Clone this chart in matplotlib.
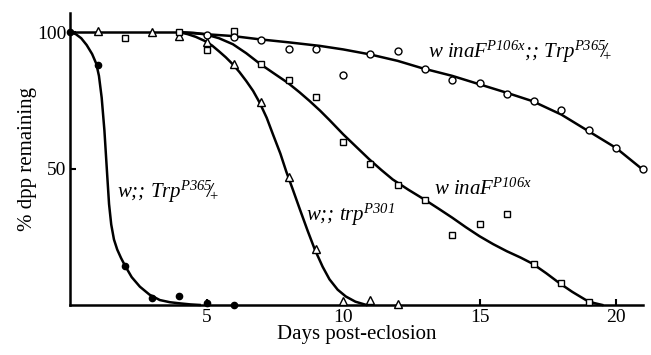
import numpy as np
import matplotlib.pyplot as plt

plt.rcParams['font.family'] = 'Liberation Serif'
plt.rcParams['mathtext.fontset'] = 'custom'
plt.rcParams['mathtext.rm'] = 'Liberation Serif:italic'
plt.rcParams['mathtext.it'] = 'Liberation Serif:italic'
plt.rcParams['mathtext.sf'] = 'Liberation Serif'

# measured points (days, % dpp remaining)
trp365_x = [0, 1, 2, 3, 4, 5, 6]
trp365_y = [100, 88, 14.3, 2.5, 3.3, 0.6, 0]

trp301_x = [1, 3, 4, 5, 6, 7, 8, 9, 10, 11, 12]
trp301_y = [100.5, 100, 98.5, 96.4, 88.5, 74.4, 47, 20.6, 1.6, 1.8, 0.4]

inaf_x = [2, 4, 5, 6, 7, 8, 9, 10, 11, 12, 13, 14, 15, 16, 17, 18, 19]
inaf_y = [97.7, 100, 93.4, 100.5, 88.5, 82.4, 76.2, 59.9, 51.8, 43.9, 38.6,
          25.7, 29.7, 33.3, 15.1, 8, 1.2]

double_x = [5, 6, 7, 8, 9, 10, 11, 12, 13, 14, 15, 16, 17, 18, 19, 20, 21]
double_y = [98.9, 98.3, 97.2, 93.8, 94, 84.3, 91.9, 93.1, 86.4, 82.4, 81.5,
            77.2, 74.7, 71.4, 64, 57.6, 49.9]

# fitted curves
flat_x = [0, 4]
flat_y = [100, 100]

fit365_x = [0, 0.2, 0.4, 0.6, 0.8, 0.95, 1.05, 1.15, 1.25, 1.35, 1.42, 1.5,
            1.6, 1.72, 1.86, 2.0, 2.25, 2.55, 2.9, 3.28, 3.65, 4.0, 4.4, 4.74]
fit365_y = [100, 99.3, 97.8, 95.3, 92, 88.5, 84, 76, 64, 48, 37, 29.5,
            24, 20.3, 17.2, 14.5, 10.2, 6.7, 3.8, 1.8, 1.0, 0.6, 0.2, 0]

fit301_x = [4, 4.3, 4.6, 4.93, 5.2, 5.45, 5.7, 5.96, 6.2, 6.45, 6.7, 6.94,
            7.2, 7.43, 7.7, 7.92, 8.15, 8.41, 8.7, 8.96, 9.25, 9.5, 9.8,
            10.1, 10.45, 10.85]
fit301_y = [100, 99.3, 98.3, 96.8, 95.1, 93, 90.8, 88.2, 85.4, 82.1, 78.5,
            74.2, 68.6, 62.5, 55.5, 48.8, 42.5, 35.2, 27.2, 20.4, 14, 9.4,
            5.6, 3.1, 1.2, 0]

fitinaf_x = [4, 4.5, 4.93, 5.45, 5.96, 6.45, 6.94, 7.45, 7.98, 8.4, 8.77,
             9.15, 9.5, 10, 10.5, 10.97, 11.4, 11.82, 12.4, 12.99, 13.5, 14,
             14.5, 15, 15.5, 16, 16.5, 16.95, 17.45, 17.93, 18.4, 18.9, 19.2,
             19.5]
fitinaf_y = [100, 99.8, 99.3, 97.8, 95.6, 92.3, 88.5, 85, 81.4, 78, 74.8,
             71.3, 67.8, 62.6, 57.8, 53.3, 49.5, 46, 42.2, 38.6, 35.3, 32,
             28.5, 25.2, 22.3, 19.7, 17.4, 15.1, 11.6, 8, 4.8, 1.8, 0.7, 0]

fitdbl_x = [4, 4.93, 5.96, 6.94, 8, 9.14, 10, 10.97, 12, 12.9, 14, 15, 16,
            16.95, 18, 18.9, 20, 20.9]
fitdbl_y = [100, 99.3, 98.6, 97.4, 96.3, 95, 93.7, 91.9, 89.5, 86.8, 84, 80.9,
            77.8, 74.7, 69.8, 64.3, 57.6, 50.3]

fig = plt.figure(figsize=(6.51, 3.55), dpi=100)
ax = fig.add_axes([0.108, 0.141, 0.88, 0.822])

lw = 1.8
for fx, fy in [(flat_x, flat_y), (fit365_x, fit365_y), (fit301_x, fit301_y),
               (fitinaf_x, fitinaf_y), (fitdbl_x, fitdbl_y)]:
    ax.plot(fx, fy, color='black', lw=lw, clip_on=False, zorder=2,
            solid_joinstyle='round')

ax.plot(trp365_x, trp365_y, 'o', ms=4.5, color='black', clip_on=False, zorder=3)
ax.plot(trp301_x, trp301_y, '^', ms=6, mfc='white', mec='black', mew=1,
        clip_on=False, zorder=3)
ax.plot(inaf_x, inaf_y, 's', ms=4.5, mfc='white', mec='black', mew=1,
        clip_on=False, zorder=3)
ax.plot(double_x, double_y, 'o', ms=5, mfc='white', mec='black', mew=1,
        clip_on=False, zorder=3)

fs = 15
slash_plus = r'$\!\!/_{\!\!\mathsf{+}}$'
ax.text(13.1, 90.8, r'w inaF$^{P106x}$;; Trp$^{P365}$' + slash_plus,
        fontsize=fs, style='italic')
ax.text(1.7, 39.3, r'w;; Trp$^{P365}$' + slash_plus, fontsize=fs,
        style='italic')
ax.text(8.65, 31, r'w;; trp$^{P301}$', fontsize=fs, style='italic')
ax.text(13.35, 40.4, r'w inaF$^{P106x}$', fontsize=fs, style='italic')

ax.set_xlim(0, 21)
ax.set_ylim(0, 107)
ax.set_xticks([5, 10, 15, 20])
ax.set_yticks([50, 100])
ax.tick_params(direction='in', length=4, width=1.5, labelsize=14, pad=3)
for s in ['top', 'right']:
    ax.spines[s].set_visible(False)
for s in ['left', 'bottom']:
    ax.spines[s].set_linewidth(1.8)

ax.set_xlabel('Days post-eclosion', fontsize=15, labelpad=-1)
ax.set_ylabel('% dpp remaining', fontsize=15, labelpad=0)

plt.savefig('out.png', dpi=100)
